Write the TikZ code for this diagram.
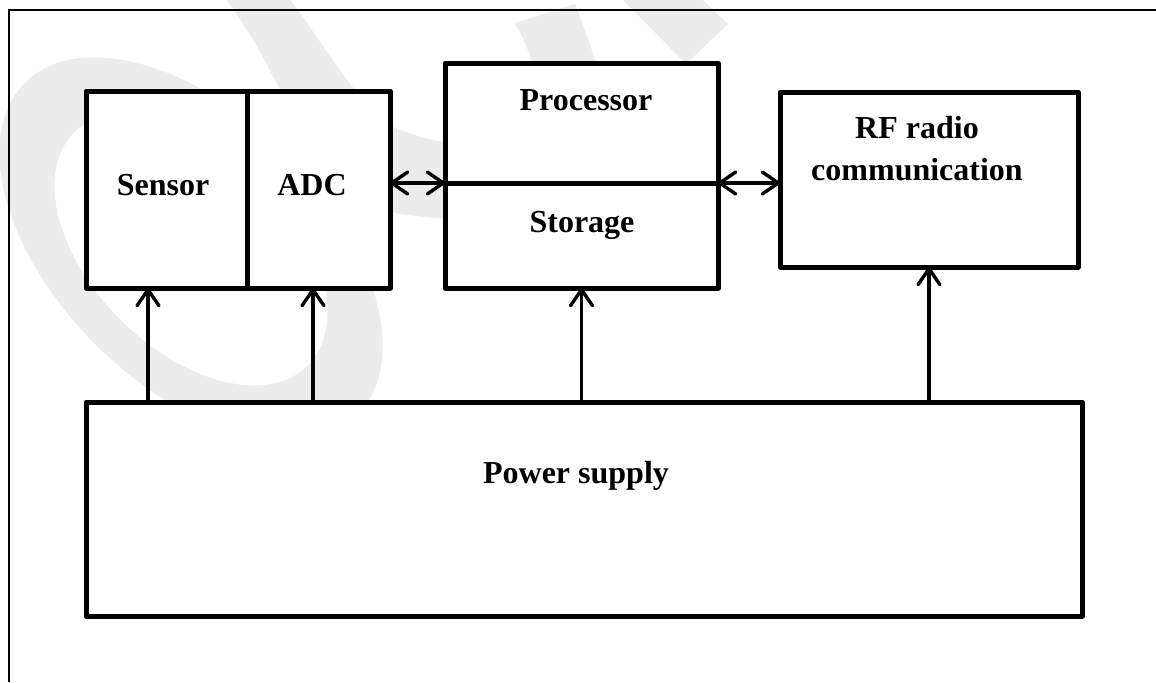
\documentclass[tikz,border=0pt]{standalone}
\usepackage{fontspec}
\setmainfont{Liberation Serif}
\usetikzlibrary{arrows.meta,calc}
\definecolor{wmgray}{RGB}{236,236,236}
\begin{document}
\begin{tikzpicture}[x=0.5pt,y=-0.5pt,
    blk/.style={draw, fill=white, line width=2.5pt, line join=round, inner sep=0pt, outer sep=0pt},
    lbl/.style={font=\bfseries\fontsize{16}{21}\selectfont, inner sep=0pt, anchor=base},
    feed/.style={line width=1.7pt, -{Straight Barb[length=8pt,width=11pt,round]}},
    link/.style={line width=1.7pt, {Straight Barb[length=8pt,width=11pt,round]}-{Straight Barb[length=8pt,width=11pt,round]}}]
  \useasboundingbox (0,0) rectangle (1156,682);

  % watermark
  \fill[wmgray, even odd rule, rotate around={-45:(191,249)}]
    (191,249) ellipse [x radius=235, y radius=135]
    (191,249) ellipse [x radius=165, y radius=100];
  \fill[wmgray] (227,0) -- (290,0) .. controls (315,30) and (350,95) .. (390,125)
    .. controls (410,135) and (430,140) .. (460,145) -- (460,220)
    .. controls (430,218) and (405,215) .. (390,212)
    .. controls (340,190) and (300,130) .. (267,65)
    .. controls (255,40) and (240,20) .. (227,0) -- cycle;
  \fill[wmgray] (515,23) -- (575,4) .. controls (585,30) and (592,50) .. (600,75)
    -- (535,75) .. controls (530,55) and (525,40) .. (515,23) -- cycle;
  \fill[wmgray] (623,0) -- (703,0) -- (728,24) -- (686,64) -- cycle;

  % frame
  \draw[line width=1pt] (9,682) -- (9,10) -- (1156,10);

  % blocks
  \node[blk, minimum width=80.5pt, minimum height=98.5pt] (sensor) at (166.5,189.5) {};
  \node[blk, minimum width=71.5pt, minimum height=98.5pt] (adc) at (318.5,189.5) {};
  \node[blk, minimum width=136.5pt, minimum height=60pt] (proc) at (581.5,123) {};
  \node[blk, minimum width=136.5pt, minimum height=52.5pt] (stor) at (581.5,235.5) {};
  \node[blk, minimum width=149pt, minimum height=87.5pt] (rf) at (929,179.5) {};
  \node[blk, minimum width=498pt, minimum height=107pt] (power) at (584,509) {};

  \node[lbl] (sensor-t) at (163,195) {Sensor};
  \node[lbl] (adc-t) at (312,195) {ADC};
  \node[lbl] (proc-t) at (586,110) {Processor};
  \node[lbl] (stor-t) at (582,232) {Storage};
  \node[lbl] (rf-t1) at (917,138) {RF radio};
  \node[lbl] (rf-t2) at (917,180) {communication};
  \node[lbl] (power-t) at (576,483) {Power supply};

  % supply lines
  \path (sensor.south) ++(-18.5,0) coordinate (sensor-in);
  \path (adc.south) ++(-5.5,0) coordinate (adc-in);
  \draw[feed] (power.north -| sensor-in) -- (sensor-in);
  \draw[feed] (power.north -| adc-in) -- (adc-in);
  \draw[feed] (power.north -| stor.south) -- (stor.south);
  \draw[feed] (power.north -| rf.south) -- (rf.south);

  % data links
  \draw[link] (adc.east |- stor.north) -- (stor.north west);
  \draw[link] (stor.north east) -- (rf.west |- stor.north);
\end{tikzpicture}
\end{document}
